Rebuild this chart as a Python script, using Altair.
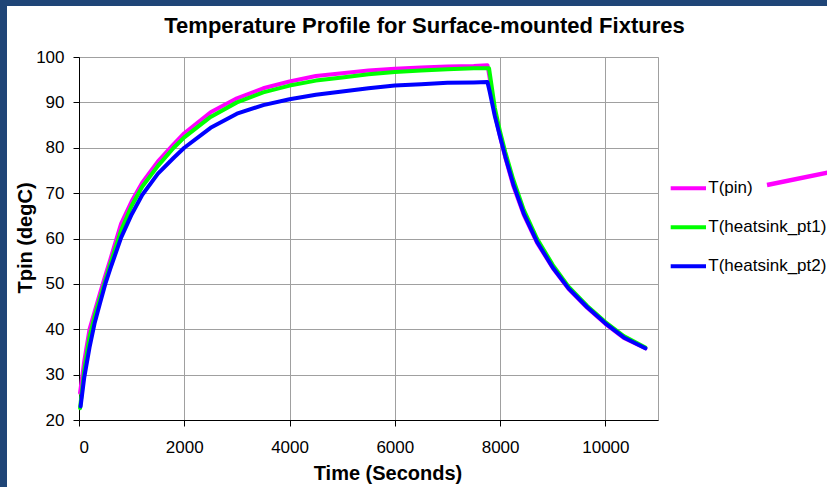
import altair as alt
import pandas as pd

# ---- data ----
series_names = ["T(pin)", "T(heatsink_pt1)", "T(heatsink_pt2)"]
series_colors = ["#FF00FF", "#00FF00", "#0000FF"]

pin_t = [20, 100, 200, 300, 400, 500, 600, 800, 1000, 1200, 1500, 1800, 2000, 2500, 3000, 3500,
         4000, 4500, 5000, 5500, 6000, 6500, 7000, 7500, 7760, 7800, 7900, 8000, 8100, 8250, 8450,
         8700, 9000, 9300, 9650, 10000, 10350, 10760]
pin_v = [26.0, 33.0, 40.0, 44.0, 48.0, 51.8, 55.6, 63.3, 68.2, 72.3, 77.0, 80.8, 83.2, 87.8, 90.9, 93.1,
         94.6, 95.8, 96.4, 97.0, 97.4, 97.7, 97.9, 98.0, 98.2, 95.5, 87.5, 82.4, 77.8, 71.6, 65.2,
         59.1, 53.5, 48.9, 44.8, 41.2, 38.1, 35.8]

hs1_t = [20, 100, 200, 300, 400, 500, 600, 800, 1000, 1200, 1500, 1800, 2000, 2500, 3000, 3500,
         4000, 4500, 5000, 5500, 6000, 6500, 7000, 7500, 7790, 7900, 8000, 8100, 8250, 8450,
         8700, 9000, 9300, 9650, 10000, 10350, 10760]
hs1_v = [22.6, 31.0, 38.3, 43.0, 46.9, 50.8, 54.6, 61.8, 67.2, 71.4, 76.0, 80.0, 82.3, 86.8, 90.0, 92.2,
         93.7, 94.8, 95.5, 96.2, 96.7, 97.0, 97.3, 97.5, 97.5, 88.8, 83.5, 79.0, 73.0, 66.3,
         60.0, 54.2, 49.4, 45.2, 41.6, 38.5, 36.0]

hs2_t = [30, 100, 200, 300, 400, 500, 600, 800, 1000, 1200, 1500, 1800, 2000, 2500, 3000, 3500,
         4000, 4500, 5000, 5500, 6000, 6500, 7000, 7500, 7760, 7800, 7900, 8000, 8100, 8250, 8450,
         8700, 9000, 9300, 9650, 10000, 10350, 10760]
hs2_v = [23.0, 29.4, 36.0, 41.5, 45.8, 50.0, 53.5, 60.2, 65.3, 69.6, 74.3, 77.8, 80.0, 84.4, 87.5, 89.4,
         90.7, 91.7, 92.4, 93.1, 93.7, 94.0, 94.3, 94.4, 94.5, 92.5, 87.0, 82.4, 78.0, 72.0, 65.5,
         59.3, 53.6, 49.0, 44.9, 41.3, 38.2, 35.8]

x_ticks = [0, 2000, 4000, 6000, 8000, 10000]
y_ticks = [20, 30, 40, 50, 60, 70, 80, 90, 100]
title_text = "Temperature Profile for Surface-mounted Fixtures"

rows = []
for name, ts, vs in zip(series_names, [pin_t, hs1_t, hs2_t], [pin_v, hs1_v, hs2_v]):
    for t, v in zip(ts, vs):
        rows.append({"series": name, "time": t, "temp": v})
df = pd.DataFrame(rows)
legend_df = pd.DataFrame({"series": series_names})

FONT = "Liberation Sans"
W, H = 579, 363
PL, PT = 79, 57
FRAME = "#1F4577"

color_scale = alt.Scale(domain=series_names, range=series_colors)

lines = alt.Chart(df).mark_line(strokeWidth=4, strokeCap="round", strokeJoin="round").encode(
    x=alt.X("time:Q", scale=alt.Scale(domain=[0, 11000], nice=False),
            axis=alt.Axis(values=x_ticks, title="Time (Seconds)", format="d",
                          tickSize=6, labelPadding=13, titleX=308.5, titleY=59.3,
                          titleBaseline="alphabetic", titleAlign="center")),
    y=alt.Y("temp:Q", scale=alt.Scale(domain=[20, 100], nice=False, zero=False),
            axis=alt.Axis(values=y_ticks, title="Tpin (degC)", tickSize=6, labelPadding=9,
                          titleX=-48, titleY=180.5, titleAngle=270,
                          titleBaseline="alphabetic", titleAlign="center")),
    color=alt.Color("series:N", sort=series_names, scale=color_scale, legend=None),
)

# legend drawn as marks (rows placed by a point scale)
legend_y = alt.Y("series:N", sort=series_names,
                 scale=alt.Scale(type="point", domain=series_names, range=[131.3, 209.3],
                                 padding=0),
                 axis=None)
leg_sym = alt.Chart(legend_df).mark_rule(strokeWidth=4).encode(
    y=legend_y, x=alt.value(591.7), x2=alt.value(627),
    color=alt.Color("series:N", scale=color_scale, legend=None),
)
leg_txt = alt.Chart(legend_df).mark_text(
    align="left", baseline="middle", font=FONT, fontSize=17, color="black"
).encode(y=legend_y, x=alt.value(629.3), text="series:N")

one = pd.DataFrame({"k": [0]})

title = alt.Chart(one).mark_text(
    text=title_text, font=FONT, fontSize=22, fontWeight="bold", color="black",
    align="center", baseline="alphabetic"
).encode(x=alt.value(345.5), y=alt.value(-23.7))

stray = alt.Chart(one).mark_rule(color="#FF00FF", strokeWidth=4.5).encode(
    x=alt.value(688), y=alt.value(128), x2=alt.value(752), y2=alt.value(115)
)
frame_left = alt.Chart(one).mark_rule(color=FRAME, strokeWidth=7).encode(
    x=alt.value(-PL + 3.5), y=alt.value(-PT), y2=alt.value(H + 80)
)
frame_top = alt.Chart(one).mark_rule(color=FRAME, strokeWidth=6).encode(
    y=alt.value(-PT + 3), x=alt.value(-PL), x2=alt.value(W + 200)
)

chart = alt.layer(
    lines, leg_sym, leg_txt, title, stray, frame_left, frame_top
).resolve_scale(
    y="independent"
).properties(
    width=W, height=H,
    autosize=alt.AutoSizeParams(type="none"),
    padding={"left": PL, "top": PT, "right": 827 - PL - W, "bottom": 487 - PT - H},
    background="white",
).configure_view(
    stroke="#A0A0A0", strokeWidth=1
).configure_axis(
    grid=True, gridColor="#A0A0A0", gridWidth=1, gridOpacity=1,
    domainColor="black", domainWidth=1, tickColor="black", tickWidth=1,
    labelFont=FONT, labelFontSize=17, labelColor="black",
    titleFont=FONT, titleFontSize=20, titleFontWeight="bold", titleColor="black",
)

chart.save("out.html", embed_options={"renderer": "svg", "actions": False})
